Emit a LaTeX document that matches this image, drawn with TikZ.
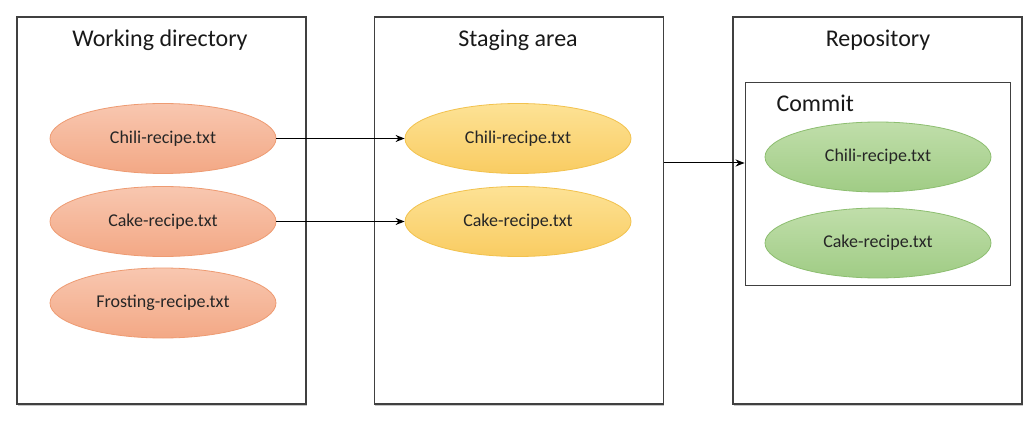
\documentclass[tikz,border=0pt]{standalone}
\usepackage{fontspec}
\setmainfont{Carlito}
\usetikzlibrary{arrows.meta,positioning,shapes.geometric,shadows}

\definecolor{framegray}{HTML}{404040}
\definecolor{peachtop}{HTML}{F8C7B0}
\definecolor{peachbot}{HTML}{F3A885}
\definecolor{peachline}{HTML}{EE9B72}
\definecolor{sandtop}{HTML}{FDE295}
\definecolor{sandbot}{HTML}{F9CC62}
\definecolor{sandline}{HTML}{F2C24E}
\definecolor{leaftop}{HTML}{C0DEAA}
\definecolor{leafbot}{HTML}{A0CC85}
\definecolor{leafline}{HTML}{8DBE70}

\begin{document}
\begin{tikzpicture}[
  x=1pt, y=-1pt,
  font=\fontsize{18}{21}\selectfont,
  area/.style={draw=framegray, line width=1.4pt, fill=white, minimum width=289pt, minimum height=387pt,
    drop shadow={shadow xshift=0.8pt, shadow yshift=-1.6pt, opacity=0.45}},
  title/.style={font=\fontsize{24}{28}\selectfont, text=black!90},
  file/.style={ellipse, line width=0.8pt, minimum width=226pt, minimum height=70pt, inner sep=0pt, text=black!85},
  wfile/.style={file, draw=peachline, top color=peachtop, bottom color=peachbot},
  sfile/.style={file, draw=sandline, top color=sandtop, bottom color=sandbot},
  rfile/.style={file, draw=leafline, top color=leaftop, bottom color=leafbot},
  arr/.style={-{Stealth[length=9pt, width=7pt]}, line width=1pt}
]
  \useasboundingbox (0,0) rectangle (1035,422);

  % the three areas
  \node[area] (work) at (161.5,210.5) {};
  \node[area] (stage) at (519,210.5) {};
  \node[area] (repo) at (877.5,210.5) {};

  \node[title] (worktitle) at (160,40) {Working directory};
  \node[title] (stagetitle) at (518,40) {Staging area};
  \node[title] (repotitle) at (878,40) {Repository};

  % commit inside the repository
  \node[draw=framegray, line width=0.9pt, minimum width=265pt, minimum height=203pt] (commit) at (877.5,183.5) {};
  \node[title, anchor=west] (committitle) at (773,103) {Commit};

  % files
  \node[wfile] (wchili) at (163,138.5) {Chili-recipe.txt};
  \node[wfile] (wcake) at (163,221.5) {Cake-recipe.txt};
  \node[wfile] (wfrost) at (163,303) {Frosting-recipe.txt};

  \node[sfile] (schili) at (518,138.5) {Chili-recipe.txt};
  \node[sfile] (scake) at (518,221.5) {Cake-recipe.txt};

  \node[rfile] (rchili) at (878,157) {Chili-recipe.txt};
  \node[rfile] (rcake) at (878,243) {Cake-recipe.txt};

  % staging and committing
  \draw[arr] (wchili.east) -- (schili.west);
  \draw[arr] (wcake.east) -- (scake.west);
  \draw[arr] (stage.east |- 0,163) coordinate (stageout) -- (commit.west |- stageout);
\end{tikzpicture}
\end{document}
